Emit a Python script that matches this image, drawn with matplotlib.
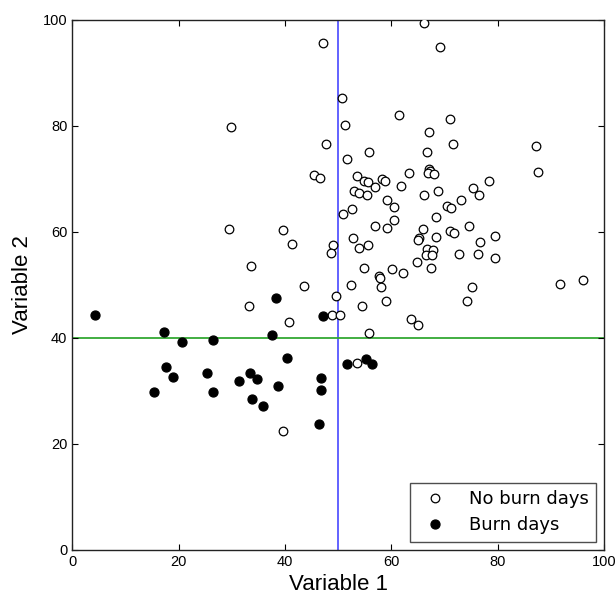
import matplotlib
matplotlib.use("Agg")
import matplotlib.pyplot as plt

# No burn days (open circles)
nb_x = [47.2, 50.8, 29.8, 47.7, 45.4, 46.5, 51.0, 29.5, 39.7, 41.4, 49.1, 48.6, 33.7, 43.5,
        66.2, 69.1, 61.5, 71.1, 51.3, 67.1, 71.6, 87.3, 55.8, 66.7, 51.6, 67.0, 67.3, 66.9,
        68.0, 87.6, 63.3, 53.5, 58.2, 58.9, 54.9, 55.7, 78.3, 56.9, 61.9, 52.9, 54.0, 55.5,
        66.2, 68.8, 75.3, 76.5, 59.2, 60.5, 73.1, 70.4, 71.2, 52.6, 68.5, 60.6, 57.0, 59.1,
        66.0, 74.7, 71.1, 71.8, 52.8, 65.2, 65.0, 68.5, 79.6, 53.9, 55.6, 66.7, 67.9, 66.6,
        67.6, 76.7, 72.8, 76.4, 79.6, 64.8, 54.9, 60.2, 62.2, 67.5, 57.7, 57.8, 58.0, 52.5,
        75.2, 91.8, 96.0, 49.6, 54.5, 59.0, 74.3, 48.9, 50.3, 63.7, 65.1, 55.8, 53.6, 33.3,
        40.8, 39.6]
nb_y = [95.6, 85.2, 79.8, 76.6, 70.6, 70.1, 63.4, 60.5, 60.3, 57.6, 57.4, 55.9, 53.5, 49.7,
        99.3, 94.8, 82.0, 81.3, 80.1, 78.8, 76.6, 76.2, 75.1, 75.0, 73.6, 71.8, 71.4, 71.1,
        70.8, 71.2, 71.0, 70.4, 70.0, 69.6, 69.5, 69.3, 69.6, 68.4, 68.6, 67.6, 67.3, 66.9,
        66.9, 67.6, 68.2, 66.9, 65.9, 64.7, 66.0, 64.85, 64.5, 64.2, 62.8, 62.2, 61.0, 60.6,
        60.4, 61.1, 60.2, 59.8, 58.7, 58.8, 58.4, 59.0, 59.1, 57.0, 57.4, 56.8, 56.5, 55.5,
        55.6, 58.1, 55.7, 55.7, 55.0, 54.3, 53.2, 52.9, 52.2, 53.1, 51.7, 51.2, 49.5, 49.9,
        49.6, 50.2, 50.8, 47.8, 46.0, 46.9, 46.9, 44.2, 44.2, 43.5, 42.3, 40.9, 35.3, 46.0,
        43.0, 22.4]

# Burn days (filled circles)
b_x = [4.2, 17.3, 20.7, 26.4, 38.4, 47.2, 37.6, 40.3, 17.6, 18.9, 15.4, 25.4, 26.5, 31.3,
       33.5, 34.8, 33.8, 35.9, 38.6, 46.8, 46.7, 46.4, 51.6, 55.2, 56.4]
b_y = [44.3, 41.0, 39.1, 39.6, 47.5, 44.1, 40.5, 36.1, 34.4, 32.5, 29.7, 33.3, 29.7, 31.9,
       33.3, 32.2, 28.4, 27.1, 30.8, 32.3, 30.1, 23.8, 35.0, 35.9, 35.1]

x_threshold = 50
y_threshold = 40
ticks = [0, 20, 40, 60, 80, 100]

plt.rcParams['font.family'] = ['Liberation Sans', 'DejaVu Sans']

fig = plt.figure(figsize=(6.15, 5.99), dpi=100)
ax = fig.add_axes([0.1176, 0.0823, 0.8644, 0.8851])

ax.axvline(x_threshold, color='#3838ff', lw=1.1, zorder=1)
ax.axhline(y_threshold, color='#33a833', lw=1.3, zorder=1)

ax.plot(nb_x, nb_y, 'o', mfc='white', mec='black', mew=0.9, ms=6.2,
        label='No burn days', zorder=3)
ax.plot(b_x, b_y, 'o', mfc='black', mec='black', mew=0.9, ms=6.5,
        label='Burn days', zorder=3)

ax.set_xlim(0, 100)
ax.set_ylim(0, 100)
ax.set_xticks(ticks)
ax.set_yticks(ticks)
ax.tick_params(direction='in', top=True, right=True, length=4, width=0.8,
               labelsize=10.5, pad=3.5)
for s in ax.spines.values():
    s.set_linewidth(1.0)
    s.set_color('#222222')

ax.set_xlabel('Variable 1', fontsize=16, labelpad=4)
ax.set_ylabel('Variable 2', fontsize=16, labelpad=7)

leg = ax.legend(loc='lower right', numpoints=1, frameon=True,
                prop={'family': 'DejaVu Sans', 'size': 13},
                fancybox=False, edgecolor='#222222', borderpad=0.4,
                handletextpad=0.85, labelspacing=0.45, borderaxespad=0.45)
leg.get_frame().set_linewidth(1.0)

fig.savefig('out.png', dpi=100)
